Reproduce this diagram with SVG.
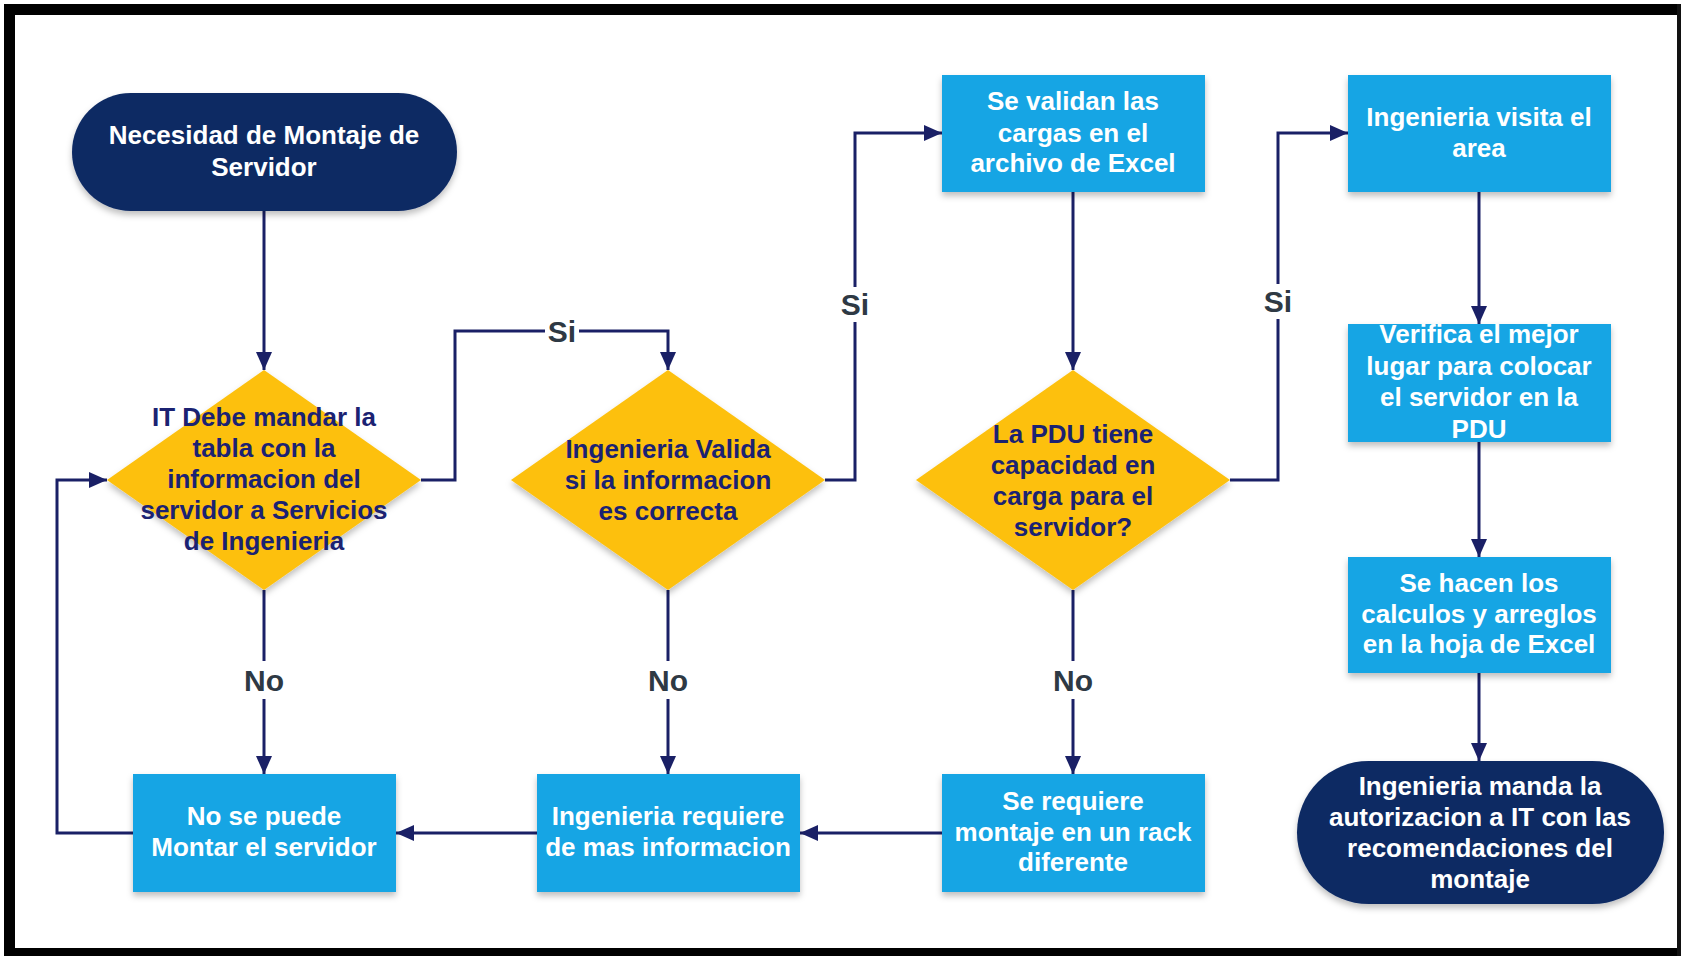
<svg xmlns="http://www.w3.org/2000/svg" width="1681" height="956" viewBox="0 0 1681 956">
<style>
.box{fill:#16a5e4;}
.pill{fill:#0d2a63;}
.dia{fill:#fdc00f;}
.t{font-family:"Liberation Sans",Arial,sans-serif;font-weight:bold;font-size:26px;text-anchor:middle;}
.w{fill:#ffffff;}
.n{fill:#1b2272;}
.lbl{font-family:"Liberation Sans",Arial,sans-serif;font-weight:bold;font-size:30px;text-anchor:middle;fill:#2e3944;}
.c{fill:none;stroke:#1a2066;stroke-width:3;}
.a{marker-end:url(#ah);}
</style>
<defs>
<marker id="ah" viewBox="0 0 18 16" refX="18" refY="8" markerWidth="18" markerHeight="16" orient="auto" markerUnits="userSpaceOnUse">
<path d="M0,0 L18,8 L0,16 z" fill="#1a2066"/>
</marker>
<filter id="sh" x="-10%" y="-10%" width="120%" height="130%">
<feDropShadow dx="0" dy="4" stdDeviation="3" flood-color="#000000" flood-opacity="0.25"/>
</filter>
</defs>
<rect x="0" y="0" width="1681" height="956" fill="#ffffff"/>
<rect x="4" y="4" width="1677" height="11" fill="#000000"/>
<rect x="4" y="4" width="11" height="952" fill="#000000"/>
<rect x="4" y="948" width="1677" height="8" fill="#000000"/>
<rect x="1677" y="4" width="4" height="952" fill="#111111"/>

<g id="connectors">
<path class="c a" d="M264,211 V370"/>
<path class="c a" d="M421,480 H455 V331 H668 V370"/>
<path class="c a" d="M825,480 H855 V133 H942"/>
<path class="c a" d="M1073,192 V370"/>
<path class="c a" d="M1230,480 H1278 V133 H1348"/>
<path class="c a" d="M1479,192 V324"/>
<path class="c a" d="M1479,442 V557"/>
<path class="c a" d="M1479,673 V761"/>
<path class="c a" d="M264,590 V774"/>
<path class="c a" d="M668,590 V774"/>
<path class="c a" d="M1073,590 V774"/>
<path class="c a" d="M942,833 H800"/>
<path class="c a" d="M537,833 H396"/>
<path class="c a" d="M133,833 H57 V480 H107"/>
<rect x="545" y="316" width="34" height="30" fill="#ffffff"/>
<text class="lbl" x="562" y="342">Si</text>
<rect x="838" y="287" width="34" height="35" fill="#ffffff"/>
<text class="lbl" x="855" y="315">Si</text>
<rect x="1261" y="284" width="34" height="35" fill="#ffffff"/>
<text class="lbl" x="1278" y="312">Si</text>
<rect x="240" y="661" width="48" height="38" fill="#ffffff"/>
<text class="lbl" x="264" y="691">No</text>
<rect x="644" y="661" width="48" height="38" fill="#ffffff"/>
<text class="lbl" x="668" y="691">No</text>
<rect x="1049" y="661" width="48" height="38" fill="#ffffff"/>
<text class="lbl" x="1073" y="691">No</text>
</g>

<g id="start">
<rect class="pill" x="72" y="93" width="385" height="118" rx="59" filter="url(#sh)"/>
<text class="t w" x="264" y="144">Necesidad de Montaje de</text>
<text class="t w" x="264" y="176">Servidor</text>
</g>

<g id="d1">
<polygon class="dia" points="264,370 421,480 264,590 107,480" filter="url(#sh)"/>
<text class="t n" x="264" y="426">IT Debe mandar la</text>
<text class="t n" x="264" y="457">tabla con la</text>
<text class="t n" x="264" y="488">informacion del</text>
<text class="t n" x="264" y="519">servidor a Servicios</text>
<text class="t n" x="264" y="550">de Ingenieria</text>
</g>

<g id="d2">
<polygon class="dia" points="668,370 825,480 668,590 511,480" filter="url(#sh)"/>
<text class="t n" x="668" y="458">Ingenieria Valida</text>
<text class="t n" x="668" y="489">si la informacion</text>
<text class="t n" x="668" y="520">es correcta</text>
</g>

<g id="b_validan">
<rect class="box" x="942" y="75" width="263" height="117" filter="url(#sh)"/>
<text class="t w" x="1073" y="110">Se validan las</text>
<text class="t w" x="1073" y="142">cargas en el</text>
<text class="t w" x="1073" y="172">archivo de Excel</text>
</g>

<g id="d3">
<polygon class="dia" points="1073,370 1230,480 1073,590 916,480" filter="url(#sh)"/>
<text class="t n" x="1073" y="443">La PDU tiene</text>
<text class="t n" x="1073" y="474">capacidad en</text>
<text class="t n" x="1073" y="505">carga para el</text>
<text class="t n" x="1073" y="536">servidor?</text>
</g>

<g id="b_visita">
<rect class="box" x="1348" y="75" width="263" height="117" filter="url(#sh)"/>
<text class="t w" x="1479" y="126">Ingenieria visita el</text>
<text class="t w" x="1479" y="157">area</text>
</g>

<g id="b_verifica">
<rect class="box" x="1348" y="324" width="263" height="118" filter="url(#sh)"/>
<text class="t w" x="1479" y="343">Verifica el mejor</text>
<text class="t w" x="1479" y="375">lugar para colocar</text>
<text class="t w" x="1479" y="406">el servidor en la</text>
<text class="t w" x="1479" y="438">PDU</text>
</g>

<g id="b_calculos">
<rect class="box" x="1348" y="557" width="263" height="116" filter="url(#sh)"/>
<text class="t w" x="1479" y="592">Se hacen los</text>
<text class="t w" x="1479" y="623">calculos y arreglos</text>
<text class="t w" x="1479" y="653">en la hoja de Excel</text>
</g>

<g id="end">
<rect class="pill" x="1297" y="761" width="367" height="143" rx="71.5" filter="url(#sh)"/>
<text class="t w" x="1480" y="795">Ingenieria manda la</text>
<text class="t w" x="1480" y="826">autorizacion a IT con las</text>
<text class="t w" x="1480" y="857">recomendaciones del</text>
<text class="t w" x="1480" y="888">montaje</text>
</g>

<g id="b_nopuede">
<rect class="box" x="133" y="774" width="263" height="118" filter="url(#sh)"/>
<text class="t w" x="264" y="825">No se puede</text>
<text class="t w" x="264" y="856">Montar el servidor</text>
</g>

<g id="b_masinfo">
<rect class="box" x="537" y="774" width="263" height="118" filter="url(#sh)"/>
<text class="t w" x="668" y="825">Ingenieria requiere</text>
<text class="t w" x="668" y="856">de mas informacion</text>
</g>

<g id="b_rack">
<rect class="box" x="942" y="774" width="263" height="118" filter="url(#sh)"/>
<text class="t w" x="1073" y="810">Se requiere</text>
<text class="t w" x="1073" y="841">montaje en un rack</text>
<text class="t w" x="1073" y="871">diferente</text>
</g>
</svg>
